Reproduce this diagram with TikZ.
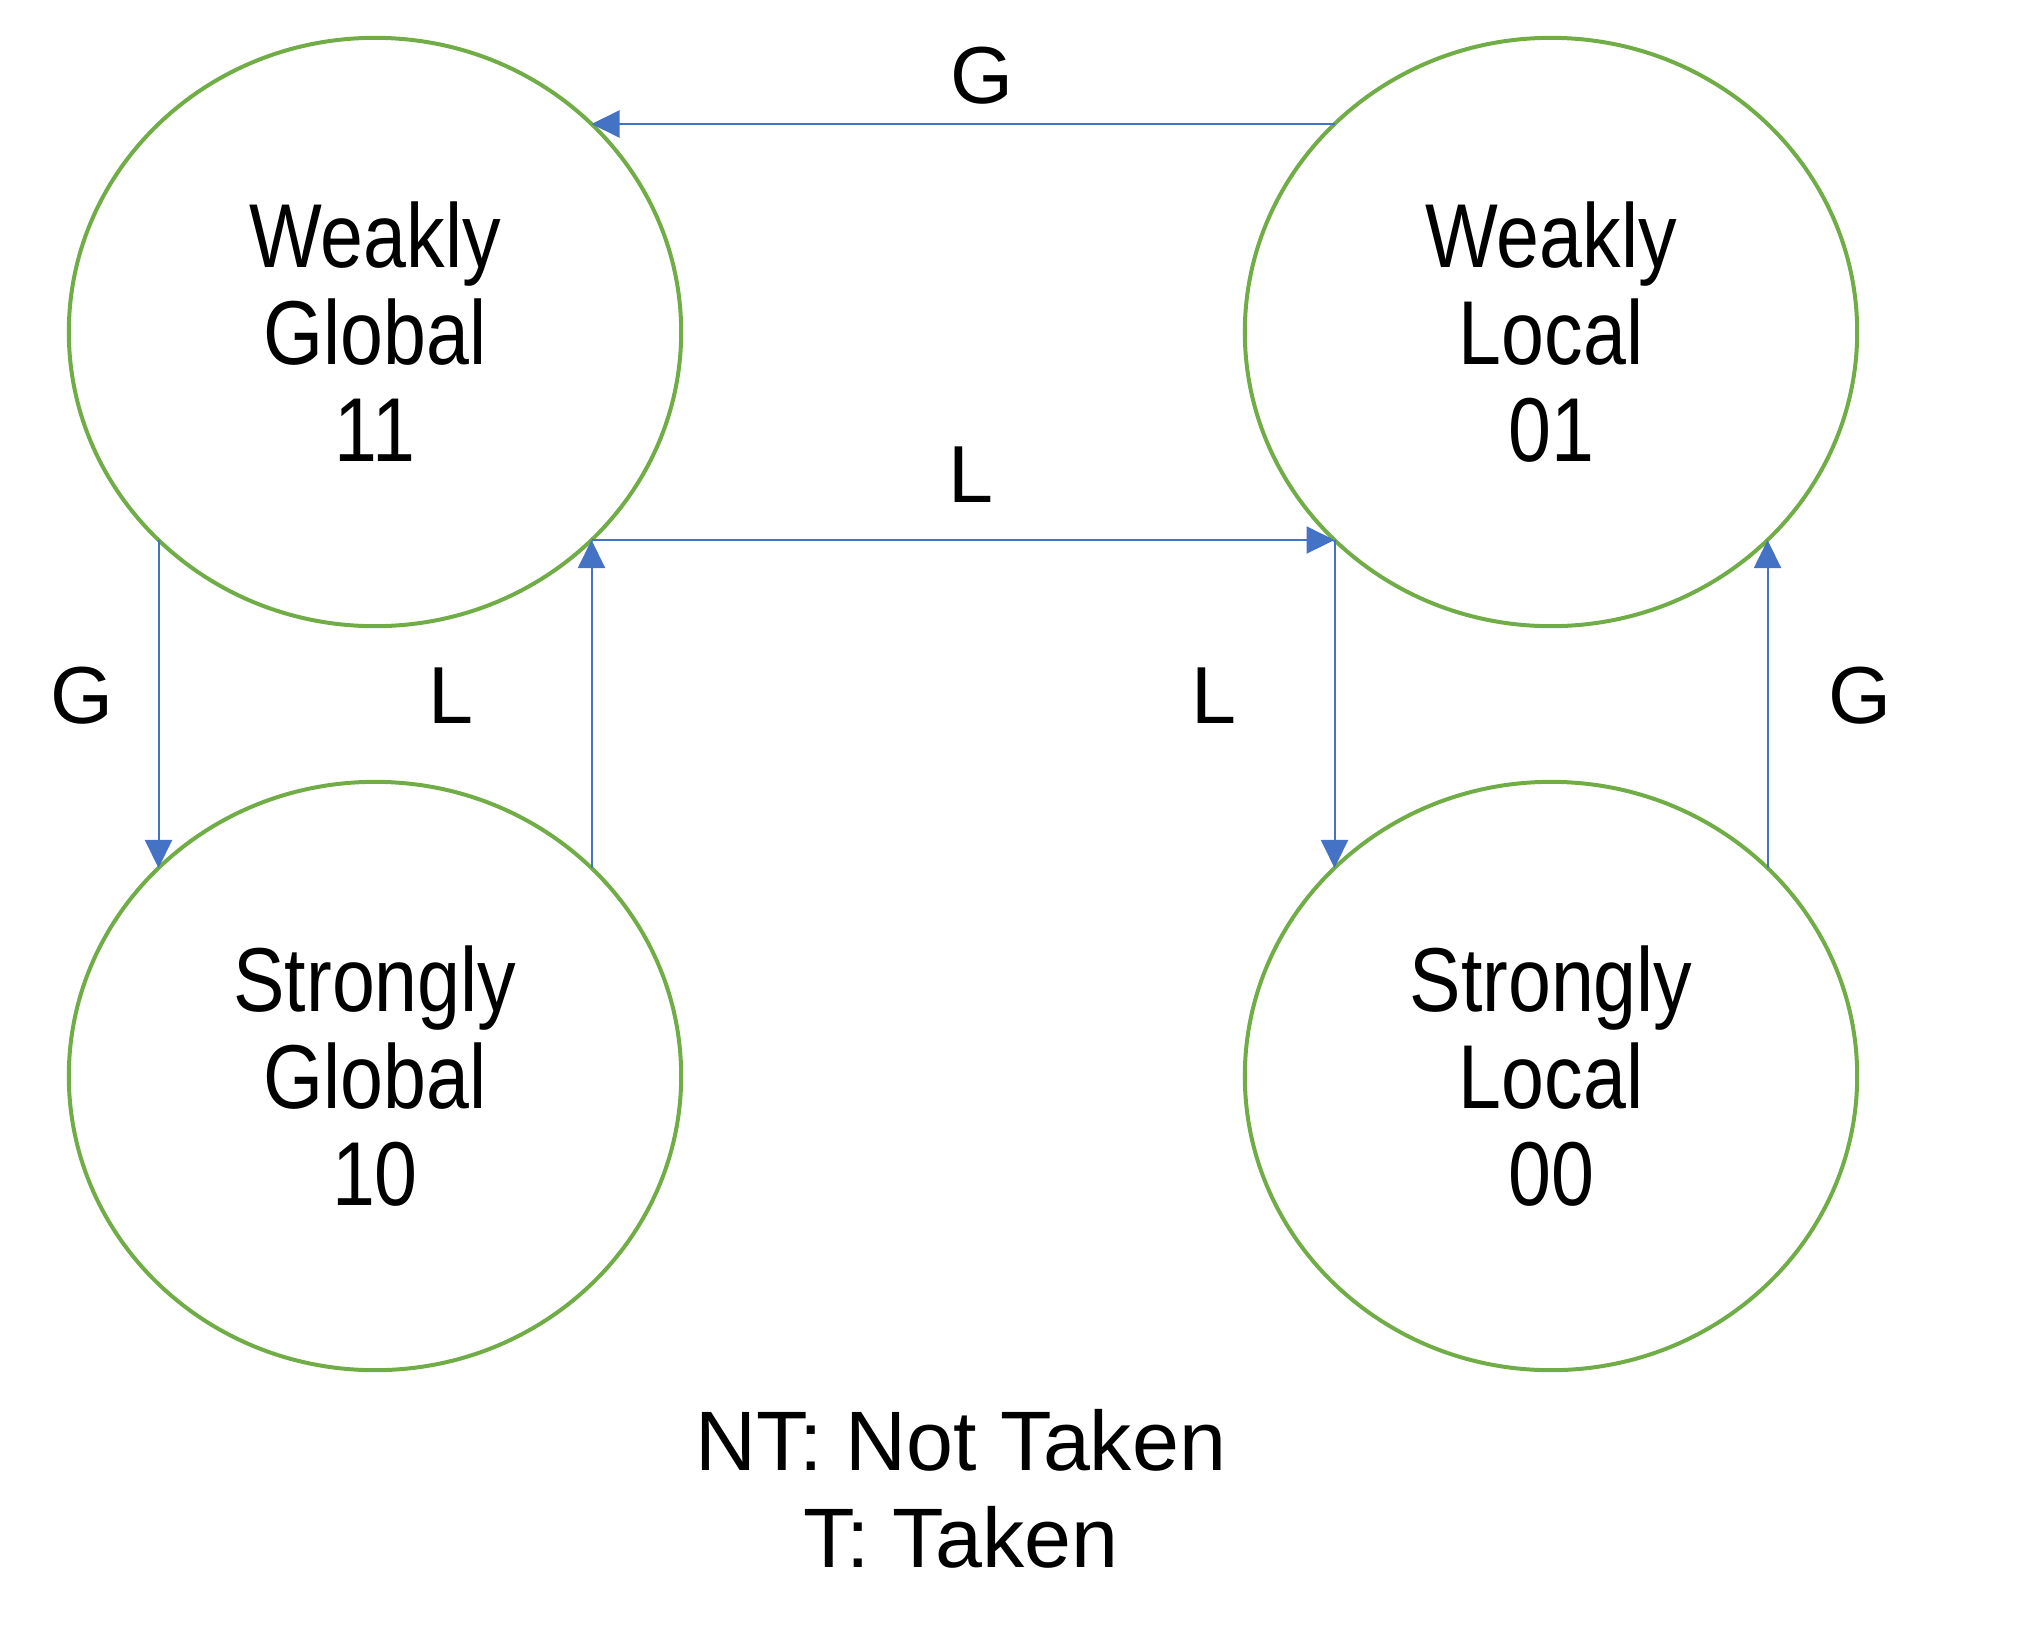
\documentclass[tikz,border=0pt]{standalone}
\usepackage{fontspec}
\setmainfont{Liberation Sans}
\newfontfamily\statefont[FakeStretch=0.85]{Liberation Sans}
\usepackage{xcolor}
\usetikzlibrary{shapes.geometric,arrows.meta}
\definecolor{stategreen}{HTML}{70AD47}
\definecolor{linkblue}{HTML}{4472C4}

\begin{document}
\begin{tikzpicture}[x=0.01cm,y=-0.01cm,
    state/.style={shape=ellipse,draw=stategreen,line width=0.04cm,minimum width=6.12cm,minimum height=5.88cm,inner sep=0pt,outer sep=0pt,align=center,font=\statefont\fontsize{25.8}{27.6}\selectfont},
    link/.style={color=linkblue,line width=0.02cm,-{Triangle[length=0.28cm,width=0.27cm]}},
    lbl/.style={font=\fontsize{23}{27}\selectfont}]
  \useasboundingbox (0,0) rectangle (2034,1636);
  \node[state] (wg) at (375,332) {Weakly\\Global\\11};
  \node[state] (wl) at (1551,332) {Weakly\\Local\\01};
  \node[state] (sg) at (375,1076) {Strongly\\Global\\10};
  \node[state] (sl) at (1551,1076) {Strongly\\Local\\00};
  \draw[link] (wl.north west) -- (wg.north east);
  \draw[link] (wg.south east) -- (wl.south west);
  \draw[link] (wg.south west) -- (sg.north west);
  \draw[link] (sg.north east) -- (wg.south east);
  \draw[link] (wl.south west) -- (sl.north west);
  \draw[link] (sl.north east) -- (wl.south east);
  \node[lbl] (gtop) at (982,76) {G};
  \node[lbl] (lmid) at (971,475) {L};
  \node[lbl] (gleft) at (82,696) {G};
  \node[lbl] (lleft) at (451,696) {L};
  \node[lbl] (lright) at (1214,696) {L};
  \node[lbl] (gright) at (1860,696) {G};
  \node[inner sep=0pt,align=center,font=\fontsize{24}{27.6}\selectfont] (key) at (961,1489) {NT: Not Taken\\T: Taken};
\end{tikzpicture}
\end{document}
